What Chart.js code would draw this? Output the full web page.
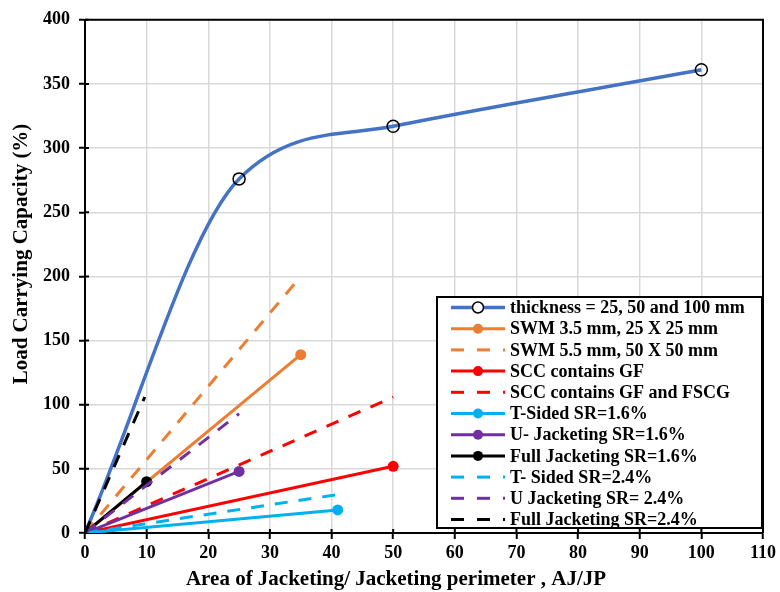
<!DOCTYPE html>
<html lang="en">
<head>
    <meta charset="UTF-8">
    <title>Load Carrying Capacity vs AJ/JP</title>
    <script src="https://cdn.jsdelivr.net/npm/chart.js"></script>
    <style>
        html, body {
            margin: 0;
            padding: 0;
            background: #ffffff;
        }
        .chart-container {
            width: 780px;
            height: 592px;
        }
    </style>
</head>
<body>

    <div class="chart-container">
        <canvas id="loadChart"></canvas>
    </div>

    <script>
        // data (x = AJ/JP, y = load carrying capacity %)
        const thicknessX = [0, 25, 50, 100];
        const thicknessY = [0, 276, 317, 361];
        const swm35X = [0, 35];
        const swm35Y = [0, 139];
        const swm55X = [0, 35];
        const swm55Y = [0, 200];
        const sccGfX = [0, 50];
        const sccGfY = [0, 52];
        const sccFscgX = [0, 50];
        const sccFscgY = [0, 106];
        const tSided16X = [0, 41];
        const tSided16Y = [0, 18];
        const uJack16X = [0, 25];
        const uJack16Y = [0, 48];
        const fullJack16X = [0, 10];
        const fullJack16Y = [0, 40];
        const tSided24X = [0, 41];
        const tSided24Y = [0, 30];
        const uJack24X = [0, 25];
        const uJack24Y = [0, 93];
        const fullJack24X = [0, 9.7];
        const fullJack24Y = [0, 106];

        const seriesLabels = [
            'thickness = 25, 50 and 100 mm',
            'SWM 3.5 mm, 25 X 25 mm',
            'SWM 5.5 mm, 50 X 50 mm',
            'SCC contains GF',
            'SCC contains GF and FSCG',
            'T-Sided SR=1.6%',
            'U- Jacketing SR=1.6%',
            'Full Jacketing SR=1.6%',
            'T- Sided SR=2.4%',
            'U Jacketing SR= 2.4%',
            'Full Jacketing SR=2.4%'
        ];

        const xTicks = [0, 10, 20, 30, 40, 50, 60, 70, 80, 90, 100, 110];
        const yTicks = [0, 50, 100, 150, 200, 250, 300, 350, 400];

        const xTitle = 'Area of Jacketing/ Jacketing perimeter , AJ/JP';
        const yTitle = 'Load Carrying Capacity (%)';

        const FONT = "'Liberation Serif', 'Times New Roman', serif";

        function pts(xs, ys) {
            return xs.map((x, i) => ({ x: x, y: ys[i] }));
        }

        function solid(label, xs, ys, color) {
            return {
                label: label,
                data: pts(xs, ys),
                borderColor: color,
                backgroundColor: color,
                borderWidth: 3,
                pointRadius: 5.5,
                pointBackgroundColor: color,
                pointBorderColor: color,
                pointBorderWidth: 0,
                tension: 0
            };
        }

        function dashed(label, xs, ys, color) {
            return {
                label: label,
                data: pts(xs, ys),
                borderColor: color,
                backgroundColor: color,
                borderWidth: 3,
                borderDash: [13, 11],
                pointRadius: 0,
                tension: 0
            };
        }

        const datasets = [
            {
                label: seriesLabels[0],
                data: pts(thicknessX, thicknessY),
                borderColor: '#4472C4',
                backgroundColor: 'transparent',
                borderWidth: 3.5,
                pointRadius: 6,
                pointBackgroundColor: 'rgba(0,0,0,0)',
                pointBorderColor: '#000000',
                pointBorderWidth: 1.5,
                cubicInterpolationMode: 'monotone'
            },
            solid(seriesLabels[1], swm35X, swm35Y, '#ED7D31'),
            dashed(seriesLabels[2], swm55X, swm55Y, '#ED7D31'),
            solid(seriesLabels[3], sccGfX, sccGfY, '#FF0000'),
            dashed(seriesLabels[4], sccFscgX, sccFscgY, '#FF0000'),
            solid(seriesLabels[5], tSided16X, tSided16Y, '#00B0F0'),
            solid(seriesLabels[6], uJack16X, uJack16Y, '#7030A0'),
            solid(seriesLabels[7], fullJack16X, fullJack16Y, '#000000'),
            dashed(seriesLabels[8], tSided24X, tSided24Y, '#00B0F0'),
            dashed(seriesLabels[9], uJack24X, uJack24Y, '#7030A0'),
            dashed(seriesLabels[10], fullJack24X, fullJack24Y, '#000000')
        ];
        // later series on top, like the original spreadsheet
        datasets.forEach((d, i) => { d.order = datasets.length - i; });

        // frame, cross ticks, axis titles and boxed legend inside the plot
        const extras = {
            id: 'extras',
            beforeDatasetsDraw(chart) {
                const { ctx, chartArea: a, scales } = chart;
                ctx.save();
                ctx.strokeStyle = '#000000';
                ctx.lineWidth = 2;
                ctx.beginPath();
                ctx.moveTo(a.left, a.top);
                ctx.lineTo(a.right, a.top);
                ctx.lineTo(a.right, a.bottom);
                ctx.stroke();

                // inner half of the tick marks (ticks cross the axis)
                ctx.beginPath();
                xTicks.forEach(v => {
                    const px = scales.x.getPixelForValue(v);
                    ctx.moveTo(px, a.bottom);
                    ctx.lineTo(px, a.bottom - 4);
                });
                yTicks.forEach(v => {
                    const py = scales.y.getPixelForValue(v);
                    ctx.moveTo(a.left, py);
                    ctx.lineTo(a.left + 4, py);
                });
                ctx.stroke();
                ctx.restore();
            },
            afterDraw(chart) {
                const ctx = chart.ctx;

                // axis titles
                ctx.save();
                ctx.fillStyle = '#000000';
                ctx.font = 'bold 21px ' + FONT;
                ctx.textAlign = 'center';
                ctx.textBaseline = 'alphabetic';
                ctx.fillText(xTitle, 396, 585);
                ctx.translate(27, 254);
                ctx.rotate(-Math.PI / 2);
                ctx.fillText(yTitle, 0, 0);
                ctx.restore();

                // legend box
                const bx = 437, by = 297, bw = 325, bh = 231;
                ctx.save();
                ctx.fillStyle = '#ffffff';
                ctx.fillRect(bx, by, bw, bh);
                ctx.strokeStyle = '#000000';
                ctx.lineWidth = 2;
                ctx.strokeRect(bx, by, bw, bh);

                const rowTop = 307.5, rowStep = 21.2;
                chart.data.datasets.forEach((d, i) => {
                    const y = rowTop + i * rowStep;
                    ctx.save();
                    ctx.strokeStyle = d.borderColor;
                    ctx.lineWidth = d.borderWidth;
                    if (d.borderDash) {
                        ctx.setLineDash([13, 13]);
                    }
                    ctx.beginPath();
                    ctx.moveTo(451, y);
                    ctx.lineTo(505, y);
                    ctx.stroke();
                    ctx.setLineDash([]);
                    if (d.pointRadius > 0) {
                        ctx.beginPath();
                        ctx.arc(478, y, d.pointRadius - 0.5, 0, Math.PI * 2);
                        if (d.pointBorderWidth > 0) {
                            ctx.fillStyle = '#ffffff';
                            ctx.fill();
                            ctx.lineWidth = d.pointBorderWidth;
                            ctx.strokeStyle = d.pointBorderColor;
                            ctx.stroke();
                        } else {
                            ctx.fillStyle = d.pointBackgroundColor;
                            ctx.fill();
                        }
                    }
                    ctx.restore();

                    ctx.font = 'bold 18px ' + FONT;
                    ctx.fillStyle = '#000000';
                    ctx.textAlign = 'left';
                    ctx.textBaseline = 'middle';
                    ctx.fillText(d.label, 510, y + 1);
                });
                ctx.restore();
            }
        };

        const ctxChart = document.getElementById('loadChart').getContext('2d');
        const loadChart = new Chart(ctxChart, {
            type: 'line',
            data: { datasets: datasets },
            options: {
                responsive: true,
                maintainAspectRatio: false,
                animation: false,
                layout: {
                    padding: { top: 13, right: 16, left: 0, bottom: 0 }
                },
                plugins: {
                    legend: { display: false },
                    tooltip: { enabled: false }
                },
                scales: {
                    x: {
                        type: 'linear',
                        min: 0,
                        max: 110,
                        afterBuildTicks: (scale) => { scale.ticks = xTicks.map(v => ({ value: v })); },
                        afterFit: (scale) => { scale.height = 59; },
                        ticks: {
                            color: '#000000',
                            font: { family: FONT, size: 18, weight: 'bold' },
                            padding: 4,
                            maxRotation: 0
                        },
                        grid: {
                            color: '#d9d9d9',
                            lineWidth: 1.5,
                            tickColor: '#000000',
                            tickLength: 6,
                            tickWidth: 2
                        },
                        border: { color: '#000000', width: 2 }
                    },
                    y: {
                        type: 'linear',
                        min: 0,
                        max: 400,
                        afterBuildTicks: (scale) => { scale.ticks = yTicks.map(v => ({ value: v })); },
                        afterFit: (scale) => { scale.width = 85; },
                        ticks: {
                            color: '#000000',
                            font: { family: FONT, size: 18, weight: 'bold' },
                            padding: 9
                        },
                        grid: {
                            color: '#d9d9d9',
                            lineWidth: 1.5,
                            tickColor: '#000000',
                            tickLength: 6,
                            tickWidth: 2
                        },
                        border: { color: '#000000', width: 2 }
                    }
                }
            },
            plugins: [extras]
        });
    </script>

</body>
</html>
